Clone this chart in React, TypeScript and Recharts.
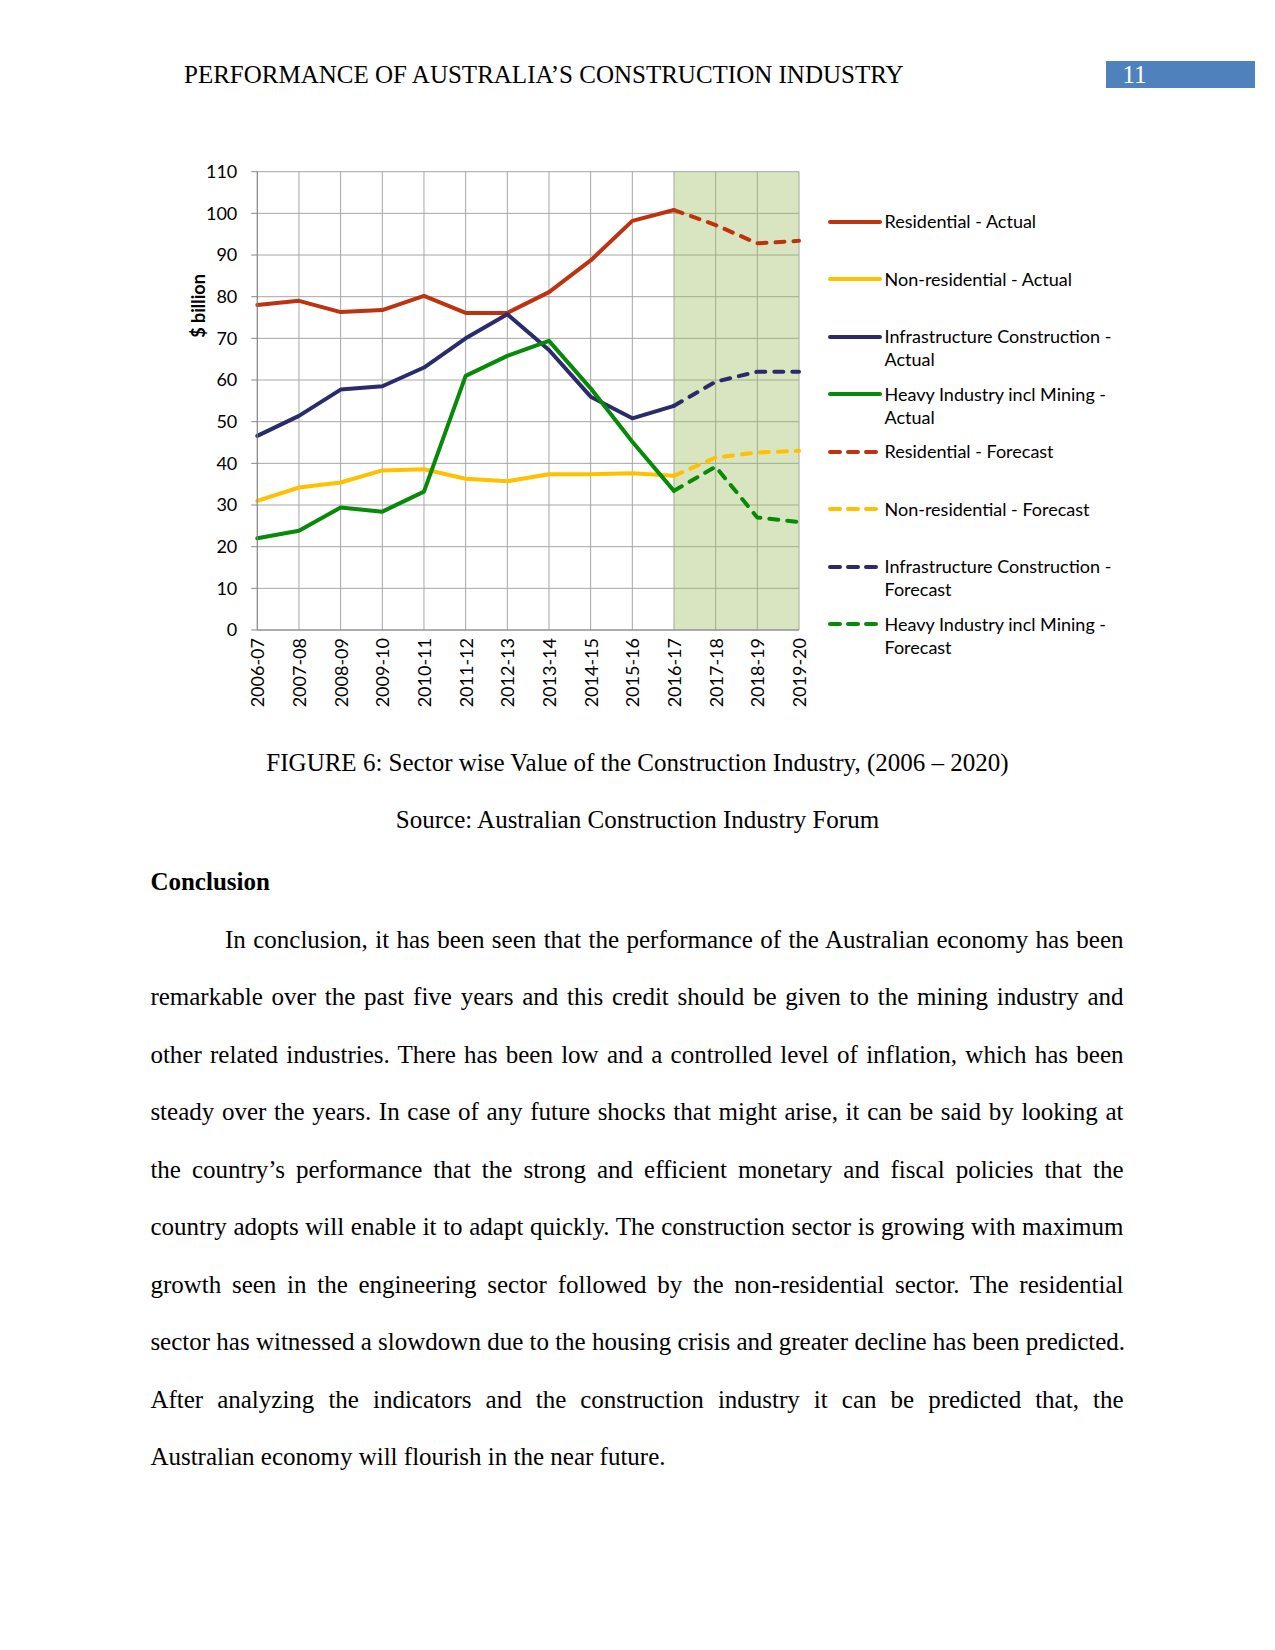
import React from 'react';
import { LineChart, Line, XAxis, YAxis, CartesianGrid, ReferenceArea, Legend } from 'recharts';

const categories = ['2006-07', '2007-08', '2008-09', '2009-10', '2010-11', '2011-12', '2012-13', '2013-14', '2014-15', '2015-16', '2016-17', '2017-18', '2018-19', '2019-20'];
const residentialActual = [78.0, 79.0, 76.3, 76.8, 80.2, 76.1, 76.1, 81.1, 88.7, 98.2, 100.8, null, null, null];
const nonResidentialActual = [31.0, 34.2, 35.4, 38.3, 38.6, 36.3, 35.7, 37.4, 37.4, 37.6, 37.0, null, null, null];
const infrastructureActual = [46.6, 51.4, 57.7, 58.5, 63.0, 70.0, 75.8, 67.2, 56.0, 50.8, 53.8, null, null, null];
const heavyActual = [22.0, 23.8, 29.4, 28.4, 33.2, 61.0, 65.8, 69.4, 58.0, 45.2, 33.4, null, null, null];
const residentialForecast = [null, null, null, null, null, null, null, null, null, null, 100.8, 97.2, 92.8, 93.4];
const nonResidentialForecast = [null, null, null, null, null, null, null, null, null, null, 37.0, 41.4, 42.6, 43.0];
const infrastructureForecast = [null, null, null, null, null, null, null, null, null, null, 53.8, 59.6, 62.0, 62.0];
const heavyForecast = [null, null, null, null, null, null, null, null, null, null, 33.4, 39.2, 27.0, 25.9];
const yTicks = [0, 10, 20, 30, 40, 50, 60, 70, 80, 90, 100, 110];
const forecastStart = '2016-17';
const forecastEnd = '2019-20';

const RED = '#BD3310';
const YELLOW = '#FFC000';
const NAVY = '#2B2A6B';
const GREEN = '#078A07';

const seriesDefs = [
  { key: 'resA', name: 'Residential - Actual', color: RED, dashed: false, values: residentialActual },
  { key: 'nonA', name: 'Non-residential - Actual', color: YELLOW, dashed: false, values: nonResidentialActual },
  { key: 'infA', name: 'Infrastructure Construction - Actual', color: NAVY, dashed: false, values: infrastructureActual },
  { key: 'hvyA', name: 'Heavy Industry incl Mining - Actual', color: GREEN, dashed: false, values: heavyActual },
  { key: 'resF', name: 'Residential - Forecast', color: RED, dashed: true, values: residentialForecast },
  { key: 'nonF', name: 'Non-residential - Forecast', color: YELLOW, dashed: true, values: nonResidentialForecast },
  { key: 'infF', name: 'Infrastructure Construction - Forecast', color: NAVY, dashed: true, values: infrastructureForecast },
  { key: 'hvyF', name: 'Heavy Industry incl Mining - Forecast', color: GREEN, dashed: true, values: heavyForecast },
];

const data = categories.map((c, i) => {
  const row: any = { year: c };
  seriesDefs.forEach((s) => { row[s.key] = s.values[i]; });
  return row;
});

const paragraphLines = [
  'In conclusion, it has been seen that the performance of the Australian economy has been',
  'remarkable over the past five years and this credit should be given to the mining industry and',
  'other related industries. There has been low and a controlled level of inflation, which has been',
  'steady over the years. In case of any future shocks that might arise, it can be said by looking at',
  'the country\u2019s performance that the strong and efficient monetary and fiscal policies that the',
  'country adopts will enable it to adapt quickly. The construction sector is growing with maximum',
  'growth seen in the engineering sector followed by the non-residential sector. The residential',
  'sector has witnessed a slowdown due to the housing crisis and greater decline has been predicted.',
  'After analyzing the indicators and the construction industry it can be predicted that, the',
  'Australian economy will flourish in the near future.',
];

const CHART_FONT = 'Lato, "Open Sans", sans-serif';
const SERIF = '"Liberation Serif", "Times New Roman", serif';

const XTick = (props: any) => {
  const { x, y, payload } = props;
  const ty = y + 8;
  return (
    <text x={x} y={ty} transform={`rotate(-90, ${x}, ${ty})`} textAnchor="end" dominantBaseline="central"
      fontFamily={CHART_FONT} fontSize={18} fill="#000">
      {payload.value}
    </text>
  );
};

const YLabel = (props: any) => {
  const vb = props.viewBox || { x: 0, width: 257.3 };
  const x = vb.x + vb.width - 52;
  const y = 306;
  return (
    <text x={x} y={y} transform={`rotate(-90, ${x}, ${y})`} textAnchor="middle"
      fontFamily={CHART_FONT} fontSize={18} fontWeight="bold" fill="#000">
      $ billion
    </text>
  );
};

const LegendContent = (props: any) => {
  const payload = props.payload || [];
  const ordered = seriesDefs.filter((s) => payload.some((p: any) => p.dataKey === s.key));
  return (
    <div style={{ fontFamily: CHART_FONT, fontSize: 18, color: '#000' }}>
      {ordered.map((def) => {
        const name = def.name;
        let lines = [name];
        if (name.length > 28) {
          const idx = name.lastIndexOf(' ');
          lines = [name.slice(0, idx), name.slice(idx + 1)];
        }
        return (
          <div key={def.key} style={{ height: 57.5, position: 'relative' }}>
            <svg width={56} height={12} style={{ position: 'absolute', left: 0, top: 5.65 }}>
              <line x1={2} y1={6} x2={def.dashed ? 50 : 52} y2={6} stroke={def.color} strokeWidth={4}
                strokeLinecap="round" strokeDasharray={def.dashed ? '10 8' : undefined} />
            </svg>
            <div style={{ position: 'absolute', left: 56.5, top: 0, lineHeight: '23.3px', whiteSpace: 'nowrap' }}>
              {lines.map((l, i) => (<div key={i}>{l}</div>))}
            </div>
          </div>
        );
      })}
    </div>
  );
};

export default function App() {
  return (
    <div style={{ position: 'absolute', left: 0, top: 0, width: 1275, height: 1650, background: '#fff', overflow: 'hidden' }}>
      {/* Header */}
      <div style={{ position: 'absolute', left: 184, top: 83.3 - 23.44, fontFamily: SERIF, fontSize: 25, lineHeight: '30px', color: '#000', whiteSpace: 'nowrap' }}>
        PERFORMANCE OF AUSTRALIA{'\u2019'}S CONSTRUCTION INDUSTRY
      </div>
      <div style={{ position: 'absolute', left: 1105.6, top: 61, width: 149.4, height: 27.4, background: '#4F81BD' }} />
      <div style={{ position: 'absolute', left: 1122.5, top: 83.3 - 23.44, fontFamily: SERIF, fontSize: 25, lineHeight: '30px', color: '#fff' }}>
        11
      </div>

      {/* Chart */}
      <div style={{ position: 'absolute', left: 0, top: 0 }}>
        <LineChart width={1275} height={720} data={data} margin={{ top: 171.7, right: 476, bottom: 0, left: 0 }}>
          <ReferenceArea x1={forecastStart} x2={forecastEnd} y1={0} y2={110} fill="#9BBB59" fillOpacity={0.38} stroke="none" />
          <CartesianGrid stroke="#A6A6A6" strokeWidth={1} />
          <XAxis dataKey="year" scale="point" padding={{ left: 0, right: 0 }} height={90} interval={0}
            tick={<XTick />} tickLine={false} tickSize={0} tickMargin={0} axisLine={{ stroke: '#868686', strokeWidth: 1 }} />
          <YAxis domain={[0, 110]} ticks={yTicks} width={257.3} interval={0} tickSize={6} tickMargin={14}
            tick={{ fontFamily: CHART_FONT, fontSize: 18, fill: '#000' }}
            tickLine={{ stroke: '#868686' }} axisLine={{ stroke: '#868686', strokeWidth: 1 }}
            label={<YLabel />} />
          <Legend layout="horizontal" verticalAlign="middle" align="center" content={<LegendContent />}
            wrapperStyle={{ position: 'absolute', left: 828, top: 210, width: 320, height: 470 }} />
          {seriesDefs.map((s) => (
            <Line key={s.key} dataKey={s.key} name={s.name} type="linear" stroke={s.color} strokeWidth={4}
              strokeDasharray={s.dashed ? '9 9' : undefined} strokeLinejoin="round" strokeLinecap="round"
              dot={false} activeDot={false} connectNulls={false} isAnimationActive={false} />
          ))}
        </LineChart>
      </div>

      {/* Caption */}
      <div style={{ position: 'absolute', left: 0, width: 1275, top: 771.7 - 23.44, textAlign: 'center', fontFamily: SERIF, fontSize: 25, lineHeight: '30px', color: '#000' }}>
        FIGURE 6: Sector wise Value of the Construction Industry, (2006 {'\u2013'} 2020)
      </div>
      <div style={{ position: 'absolute', left: 0, width: 1275, top: 828.3 - 23.44, textAlign: 'center', fontFamily: SERIF, fontSize: 25, lineHeight: '30px', color: '#000' }}>
        Source: Australian Construction Industry Forum
      </div>
      <div style={{ position: 'absolute', left: 150.4, top: 890 - 23.44, fontFamily: SERIF, fontSize: 25, fontWeight: 'bold', lineHeight: '30px', color: '#000' }}>
        Conclusion
      </div>

      {paragraphLines.map((line, i) => {
        const first = i === 0;
        const last = i === paragraphLines.length - 1;
        const left = first ? 225 : 150.4;
        return (
          <div key={i} style={{
            position: 'absolute', left, width: 1123.5 - left, top: 948.3 + 57.5 * i - 23.44,
            fontFamily: SERIF, fontSize: 25, lineHeight: '30px', color: '#000', whiteSpace: 'nowrap',
            textAlign: last ? 'left' : 'justify', textAlignLast: last ? 'left' : 'justify',
          } as any}>
            {line}
          </div>
        );
      })}
    </div>
  );
}
